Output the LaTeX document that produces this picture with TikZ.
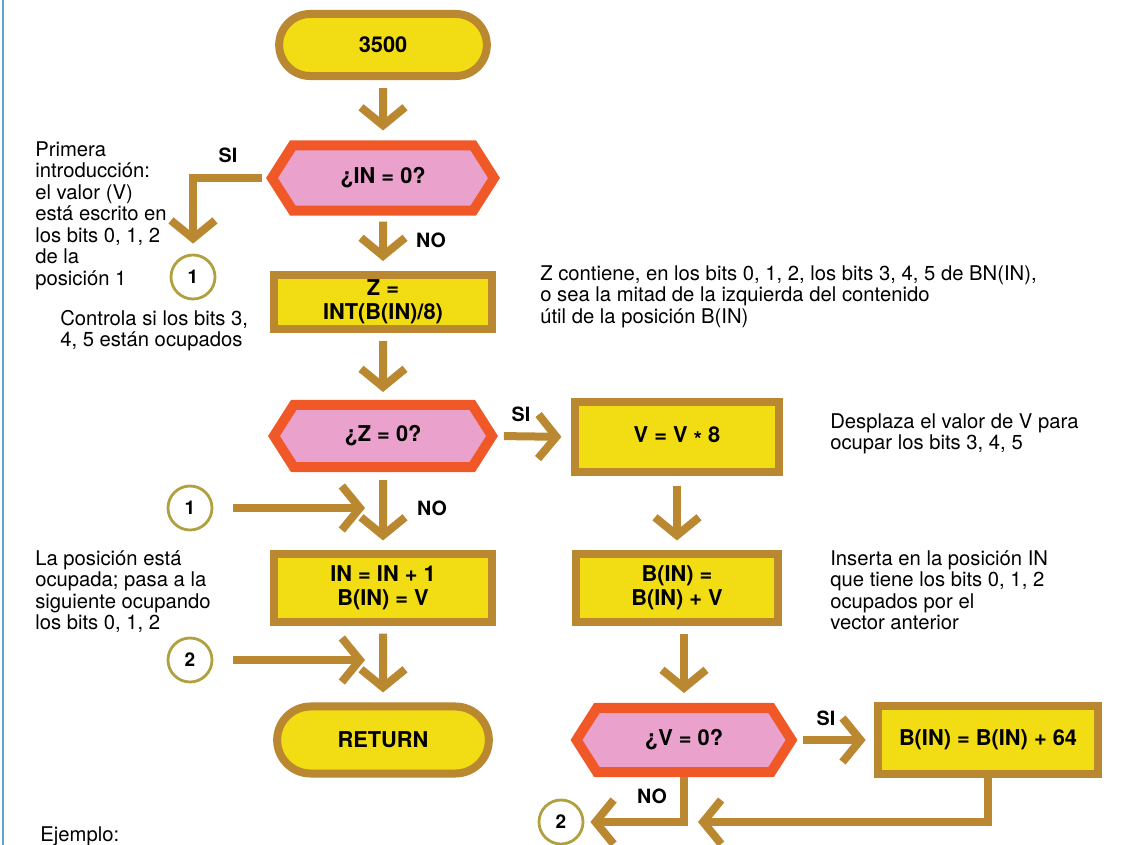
\documentclass[tikz,border=0pt]{standalone}
\usepackage{fontspec}
\setmainfont{TeX Gyre Heros}
\usetikzlibrary{shapes.misc,shapes.symbols,arrows.meta}

\definecolor{flowbrown}{RGB}{186,136,48}
\definecolor{boxyellow}{RGB}{242,220,20}
\definecolor{askpink}{RGB}{234,162,204}
\definecolor{askred}{RGB}{240,88,40}
\definecolor{circolive}{RGB}{176,160,64}
\definecolor{edgeblue}{RGB}{96,164,212}

\tikzset{
  every node/.style={font=\fontsize{14.4}{15.3}\selectfont},
  term/.style={rounded rectangle, draw=flowbrown, fill=boxyellow, line width=0.2cm,
    font=\fontsize{15.5}{17}\selectfont\bfseries},
  procbox/.style={rectangle, draw=flowbrown, fill=boxyellow, line width=0.2cm, align=center,
    font=\fontsize{15.5}{17}\selectfont\bfseries},
  ask/.style={signal, signal to=east and west, signal pointer angle=115, draw=askred,
    fill=askpink, line width=0.25cm, font=\fontsize{15.5}{17}\selectfont\bfseries},
  conn/.style={circle, draw=circolive, fill=white, line width=0.07cm, minimum size=1.1cm,
    inner sep=0pt, font=\fontsize{13.5}{15}\selectfont\bfseries},
  flow/.style={draw=flowbrown, line width=0.2cm, -{Straight Barb[length=0.45cm,width=1.1cm]}},
  lbl/.style={font=\fontsize{14}{15}\selectfont\bfseries},
  note/.style={align=left, anchor=north west, inner sep=0pt}
}

\begin{document}
\begin{tikzpicture}[x=0.025cm, y=-0.025cm]
\useasboundingbox (0,0) rectangle (1128,845);

% Page edge
\draw[edgeblue, line width=0.05cm] (3,0) -- (3,845);

% Left column
\node[term, minimum width=5.425cm, minimum height=1.55cm] (start) at (383,45) {3500};
\node[ask, minimum width=5.55cm, minimum height=1.625cm] (q1) at (383,178) {¿IN = 0?};
\node[procbox, minimum width=5.45cm, minimum height=1.35cm] (zbox) at (383,302) {Z =\\INT(B(IN)/8)};
\node[ask, minimum width=5.45cm, minimum height=1.55cm] (q2) at (383,436) {¿Z = 0?};
\node[procbox, minimum width=5.45cm, minimum height=1.675cm] (inbox) at (383,588) {IN = IN + 1\\B(IN) = V};
\node[term, minimum width=5.525cm, minimum height=1.675cm] (end) at (383,740) {RETURN};

% Right column
\node[procbox, minimum width=5.075cm, minimum height=1.725cm] (vbox) at (677,437) {V = V \raisebox{-0.4ex}{*} 8};
\node[procbox, minimum width=5.05cm, minimum height=1.675cm] (bbox) at (677,588) {B(IN) =\\B(IN) + V};
\node[ask, minimum width=5.375cm, minimum height=1.6cm] (q3) at (684,740) {¿V = 0?};
\node[procbox, minimum width=5.475cm, minimum height=1.7cm] (b64) at (988,740) {B(IN) = B(IN) + 64};

% Connectors
\node[conn] (c1a) at (193,277) {1};
\node[conn] (c1b) at (190,508) {1};
\node[conn] (c2a) at (190,660) {2};
\node[conn] (c2b) at (561,822) {2};

\coordinate (m1) at (383,508);
\coordinate (m2) at (383,660);
\coordinate (j1) at (684,822);

% Flow
\draw[flow, shorten <=0.2cm, shorten >=0.25cm] (start) -- (q1);
\draw[flow, shorten <=0.15cm, shorten >=0.25cm] (q1) -- (zbox);
\draw[flow, shorten <=0.2cm, shorten >=0.2cm] (zbox) -- (q2);
\draw[flow, shorten <=0.2cm, shorten >=0.25cm] (q2) -- (inbox);
\draw[flow, shorten <=0.2cm, shorten >=0.25cm] (inbox) -- (end);
\draw[flow, shorten <=0.1cm, shorten >=0.25cm] (q1.west) -| (c1a);
\draw[flow, shorten <=0.5cm, shorten >=0.45cm] (c1b) -- (m1);
\draw[flow, shorten <=0.5cm, shorten >=0.45cm] (c2a) -- (m2);

\draw[flow, shorten <=0.15cm, shorten >=0.25cm] (q2.east) -- (vbox.west);
\draw[flow, shorten <=0.25cm, shorten >=0.25cm] (vbox) -- (bbox);
\draw[flow, shorten <=0.2cm, shorten >=0.25cm] (q3.north |- bbox.south) -- (q3.north);
\draw[flow, shorten <=0.15cm, shorten >=0.22cm] (q3.east) -- (b64.west);
\draw[flow, shorten >=0.35cm] (b64.south) |- (j1);
\draw[flow, shorten >=0.15cm] (q3.south) |- (c2b);

% Labels
\node[lbl] (si1) at (228,155) {SI};
\node[lbl] (no1) at (431,240) {NO};
\node[lbl] (si2) at (521,414) {SI};
\node[lbl] (no2) at (432,508) {NO};
\node[lbl] (si3) at (826,718) {SI};
\node[lbl] (no3) at (652,796) {NO};

% Notes
\node[note] (n1) at (35,141) {Primera\\introducción:\\el valor (V)\\está escrito en\\los bits 0, 1, 2\\de la\\posición 1};
\node[note] (n2) at (60,310) {Controla si los bits 3,\\4, 5 están ocupados};
\node[note] (n3) at (540,265) {Z contiene, en los bits 0, 1, 2, los bits 3, 4, 5 de BN(IN),\\o sea la mitad de la izquierda del contenido\\útil de la posición B(IN)};
\node[note] (n4) at (830,413) {Desplaza el valor de V para\\ocupar los bits 3, 4, 5};
\node[note] (n5) at (830,550) {Inserta en la posición IN\\que tiene los bits 0, 1, 2\\ocupados por el\\vector anterior};
\node[note] (n6) at (35,550) {La posición está\\ocupada; pasa a la\\siguiente ocupando\\los bits 0, 1, 2};
\node[note] (n7) at (40,826) {Ejemplo:};

\end{tikzpicture}
\end{document}
